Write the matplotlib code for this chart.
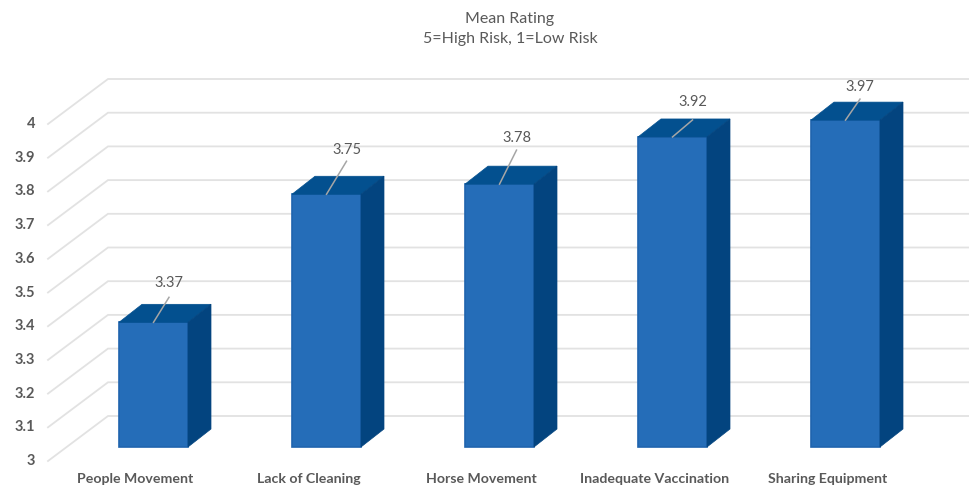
import matplotlib
matplotlib.use("Agg")
from matplotlib import pyplot as plt
from matplotlib.patches import Polygon

categories = ["People Movement", "Lack of Cleaning", "Horse Movement",
              "Inadequate Vaccination", "Sharing Equipment"]
ratings = [3.37, 3.75, 3.78, 3.92, 3.97]
yTicks = [3, 3.1, 3.2, 3.3, 3.4, 3.5, 3.6, 3.7, 3.8, 3.9, 4]
titleLines = "Mean Rating\n5=High Risk, 1=Low Risk"

plt.rcParams['font.family'] = ['Lato', 'DejaVu Sans']

# pixel scale of the picture: one category and one rating unit
PX_CAT = 173.0
PX_VAL = 337.0
WIDTH = 970
HEIGHT = 490
BASE_X = 153.5
BASE_Y = 447.0


def dx(px):
    return px / PX_CAT


def dy(px):
    return px / PX_VAL


fig = plt.figure(figsize=(9.7, 4.9), dpi=100)
ax = fig.add_axes([0, 0, 1, 1])
ax.set_xlim(-BASE_X / PX_CAT, (WIDTH - BASE_X) / PX_CAT)
ax.set_ylim(3 - (HEIGHT - BASE_Y) / PX_VAL, 3 + BASE_Y / PX_VAL)
ax.axis('off')

# floor + back wall gridlines
gridCol = '#e2e2e2'
frontX = dx(48 - BASE_X)
backX = dx(108 - BASE_X)
rightX = dx(WIDTH - BASE_X)
for t in yTicks:
    ax.plot([frontX, backX, rightX], [t - dy(14), t + dy(31), t + dy(31)],
            c=gridCol, lw=1.3, solid_joinstyle='miter', zorder=1)
    ax.text(dx(35 - BASE_X), t - dy(14), str(t), ha='right', va='center',
            fontsize=10.5, fontweight='bold', color='#595959')

# bars, the front face comes from ax.bar, top and side are added as polygons
barW = 69 / PX_CAT
depthX = dx(23)
depthY = dy(18)
frontCol = '#256db8'
topCol = '#03508f'
sideCol = '#03447f'
# leader line end and label height above each bar, in pixels
leaderX = [15.5, 20, 17, 20, 14.5]
leaderY = [25, 33, 34, 17, 21]
labelY = [39, 44, 46, 35, 33]

xs = list(range(len(categories)))
ax.bar(xs, [r - 3 for r in ratings], barW, bottom=3, color=frontCol,
       edgecolor='#1f64ae', linewidth=1.2, zorder=3)
for x, r in zip(xs, ratings):
    l = x - barW / 2
    e = x + barW / 2
    ax.add_patch(Polygon([(l, r), (e, r), (e + depthX, r + depthY), (l + depthX, r + depthY)],
                         closed=True, fc=topCol, ec=topCol, lw=0.5, zorder=3))
    ax.add_patch(Polygon([(e, 3), (e + depthX, 3 + depthY), (e + depthX, r + depthY), (e, r)],
                         closed=True, fc=sideCol, ec=sideCol, lw=0.5, zorder=3))
    ax.plot([x, x + dx(leaderX[x])], [r, r + dy(leaderY[x])], c='#a6a6a6', lw=1.1, zorder=4)
    ax.text(x + dx(leaderX[x]), r + dy(labelY[x]), f"{r:.2f}", ha='center', va='center',
            fontsize=10.5, color='#595959', zorder=5)
    ax.text(x - dx(18), 3 - dy(32), categories[x], ha='center', va='center',
            fontsize=10.2, fontweight='bold', color='#595959')

ax.text(dx(510 - BASE_X), 3 + dy(BASE_Y - 29), titleLines, ha='center', va='center',
        fontsize=11.5, color='#595959', linespacing=1.6)

fig.savefig('out.png', dpi=100)
